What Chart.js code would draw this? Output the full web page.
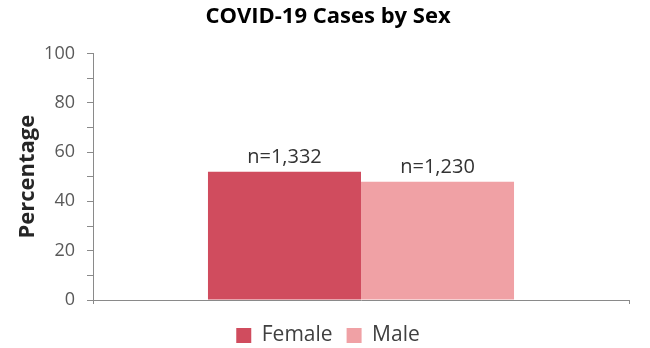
<!DOCTYPE html>
<html>
<head>
<meta charset="utf-8">
<script src="https://cdn.jsdelivr.net/npm/chart.js@4/dist/chart.umd.min.js"></script>
<style>
html,body{margin:0;padding:0;background:#fff;}
#wrap{width:650px;height:348px;}
</style>
</head>
<body>
<div id="wrap"><canvas id="c" width="650" height="348"></canvas></div>
<script>
const categories = [''];
const seriesNames = ['Female', 'Male'];
const femaleValues = [52];
const maleValues = [48];
const barLabels = ['n=1,332', 'n=1,230'];
const seriesColors = ['#d04c5e', '#f0a1a5'];

const labelPlugin = {
  id: 'barLabels',
  afterDatasetsDraw(chart) {
    const ctx = chart.ctx;
    ctx.save();
    ctx.font = '20px "Open Sans"';
    ctx.fillStyle = '#333333';
    ctx.textAlign = 'center';
    ctx.textBaseline = 'alphabetic';
    chart.data.datasets.forEach((ds, i) => {
      const meta = chart.getDatasetMeta(i);
      meta.data.forEach(bar => {
        ctx.fillText(barLabels[i], bar.x, bar.y - 9);
      });
    });
    ctx.restore();
  }
};

new Chart(document.getElementById('c'), {
  type: 'bar',
  data: {
    labels: categories,
    datasets: [
      { label: seriesNames[0], data: femaleValues, backgroundColor: seriesColors[0], barPercentage: 1, categoryPercentage: 0.571 },
      { label: seriesNames[1], data: maleValues, backgroundColor: seriesColors[1], barPercentage: 1, categoryPercentage: 0.571 }
    ]
  },
  options: {
    responsive: false,
    animation: false,
    layout: { padding: { left: 27, right: 21, top: 0, bottom: -8 } },
    plugins: {
      title: {
        display: true,
        text: 'COVID-19 Cases by Sex',
        font: { family: '"Open Sans"', size: 22, weight: 'bold' },
        color: '#000000',
        padding: { top: 4, bottom: 23 }
      },
      legend: {
        position: 'bottom',
        labels: {
          font: { family: '"Open Sans"', size: 21 },
          color: '#404040',
          boxWidth: 15,
          boxHeight: 15,
          padding: 14
        }
      },
      tooltip: { enabled: false }
    },
    scales: {
      x: {
        offset: true,
        grid: { display: true, drawOnChartArea: false, tickLength: 4, color: '#8a8a8a', offset: true },
        border: { color: '#8a8a8a' },
        ticks: { display: true, font: { size: 1 }, padding: 0 },
        afterFit(scale) { scale.height = 11; }
      },
      y: {
        min: 0,
        max: 100,
        title: {
          display: true,
          text: 'Percentage',
          font: { family: '"Open Sans"', size: 22, weight: 'bold' },
          color: '#262626',
          padding: { top: -12, bottom: 0 }
        },
        grid: { drawOnChartArea: false, tickLength: 6, color: '#8a8a8a' },
        border: { color: '#8a8a8a' },
        ticks: {
          stepSize: 10,
          autoSkip: false,
          padding: 12,
          color: '#595959',
          font: { family: '"Open Sans"', size: 18 },
          callback: v => (v % 20 === 0 ? String(v) : '')
        },
        afterFit(scale) { scale.width = 66; }
      }
    }
  },
  plugins: [labelPlugin]
});
</script>
</body>
</html>
